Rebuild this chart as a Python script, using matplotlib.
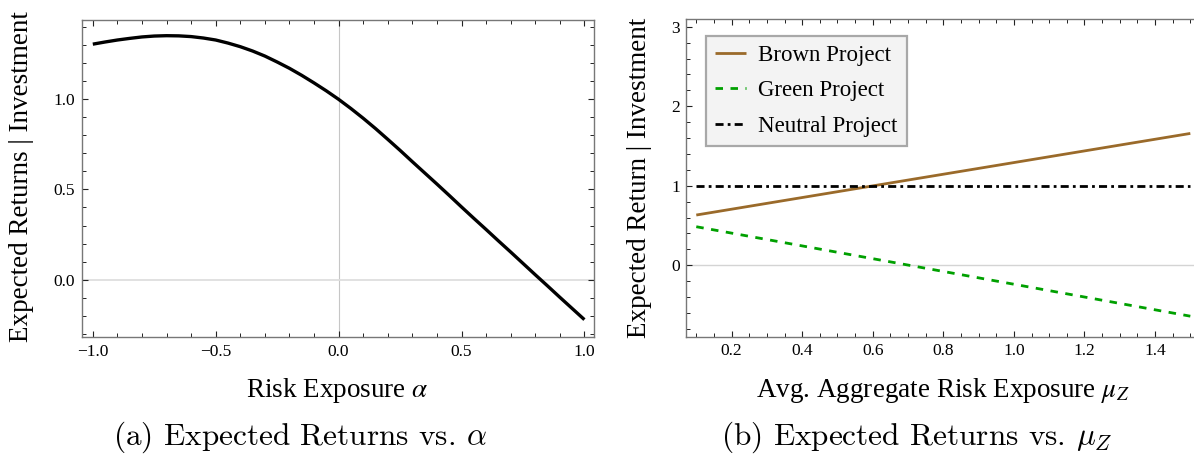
import matplotlib
matplotlib.use('Agg')
import matplotlib.pyplot as plt
from matplotlib.ticker import FixedLocator, MultipleLocator, FixedFormatter

# ---------------- data ----------------
alpha_vals = [-1.00, -0.95, -0.90, -0.85, -0.80, -0.75, -0.70, -0.65, -0.60,
              -0.55, -0.50, -0.45, -0.40, -0.35, -0.30, -0.25, -0.20, -0.15,
              -0.10, -0.05, 0.00, 0.05, 0.10, 0.15, 0.20, 0.25, 0.30, 0.35,
              0.40, 0.45, 0.50, 0.55, 0.60, 0.65, 0.70, 0.75, 0.80, 0.85,
              0.90, 0.95, 1.00]
expected_returns = [1.306, 1.318, 1.329, 1.338, 1.346, 1.351, 1.353, 1.352,
                    1.348, 1.340, 1.329, 1.312, 1.292, 1.268, 1.240, 1.207,
                    1.172, 1.133, 1.091, 1.047, 1.000, 0.949, 0.895, 0.838,
                    0.778, 0.717, 0.654, 0.592, 0.530, 0.467, 0.403, 0.340,
                    0.278, 0.215, 0.153, 0.090, 0.027, -0.035, -0.098, -0.160,
                    -0.222]

mu_z = [0.1, 1.5]
brown_project = [0.632, 1.658]
green_project = [0.485, -0.640]
neutral_project = [1.0, 1.0]
legend_labels = ['Brown Project', 'Green Project', 'Neutral Project']

left_xticks = [-1.0, -0.5, 0.0, 0.5, 1.0]
left_xticklabels = ['\u22121.0', '\u22120.5', '0.0', '0.5', '1.0']
left_yticks = [0.0, 0.5, 1.0]
left_yticklabels = ['0.0', '0.5', '1.0']
right_xticks = [0.2, 0.4, 0.6, 0.8, 1.0, 1.2, 1.4]
right_xticklabels = ['0.2', '0.4', '0.6', '0.8', '1.0', '1.2', '1.4']
right_yticks = [0, 1, 2, 3]
right_yticklabels = ['0', '1', '2', '3']

# ---------------- style ----------------
plt.rcParams['font.family'] = ['Liberation Serif', 'DejaVu Serif']
plt.rcParams['mathtext.fontset'] = 'stix'

W, H = 1194, 455
fig = plt.figure(figsize=(W / 100, H / 100), dpi=100)


def px_axes(l, r, t, b):
    return fig.add_axes([l / W, 1 - b / H, (r - l) / W, (b - t) / H])


def style(ax):
    for s in ax.spines.values():
        s.set_color('#777777')
        s.set_linewidth(1.0)
    ax.tick_params(which='both', direction='in', top=True, right=True,
                   color='#222222', labelcolor='black', labelsize=12.5)
    ax.tick_params(which='major', length=4.4, width=0.8, pad=4.8)
    ax.tick_params(which='minor', length=2.6, width=0.7)


ax1 = px_axes(81.5, 594, 20, 337.3)
ax2 = px_axes(686.4, 1200.2, 19, 336.7)

# ---- left panel ----
style(ax1)
ax1.axvline(0, color='#c6c6c6', lw=0.8, zorder=0)
ax1.axhline(0, color='#dedede', lw=1.3, zorder=0)
ax1.plot(alpha_vals, expected_returns, color='black', lw=2.4,
         solid_capstyle='butt', solid_joinstyle='round')
ax1.set_xlim(-1.046, 1.039)
ax1.set_ylim(-0.32, 1.44)
ax1.xaxis.set_major_locator(FixedLocator(left_xticks))
ax1.xaxis.set_major_formatter(FixedFormatter(left_xticklabels))
ax1.xaxis.set_minor_locator(MultipleLocator(0.1))
ax1.yaxis.set_major_locator(FixedLocator(left_yticks))
ax1.yaxis.set_major_formatter(FixedFormatter(left_yticklabels))
ax1.yaxis.set_minor_locator(MultipleLocator(0.1))

# ---- right panel ----
style(ax2)
ax2.axhline(0, color='#d4d4d4', lw=1.0, zorder=0)
l1, = ax2.plot(mu_z, brown_project, color='#9a6a2a', lw=2.0,
               solid_capstyle='butt')
l2, = ax2.plot(mu_z, green_project, color='#00a000', lw=2.0,
               dashes=(2.7, 2.7), dash_capstyle='butt')
l3, = ax2.plot(mu_z, neutral_project, color='black', lw=2.0,
               dashes=(2.9, 1.5, 1.0, 1.5), dash_capstyle='butt')
ax2.set_xlim(0.072, 1.528)
ax2.set_ylim(-0.898, 3.097)
ax2.xaxis.set_major_locator(FixedLocator(right_xticks))
ax2.xaxis.set_major_formatter(FixedFormatter(right_xticklabels))
ax2.xaxis.set_minor_locator(MultipleLocator(0.05))
ax2.yaxis.set_major_locator(FixedLocator(right_yticks))
ax2.yaxis.set_major_formatter(FixedFormatter(right_yticklabels))
ax2.yaxis.set_minor_locator(MultipleLocator(0.2))

leg = ax2.legend([l1, l2, l3], legend_labels, loc='upper left',
                 bbox_to_anchor=((706 - 686.4) / 513.8, (336.7 - 36) / 317.7),
                 borderaxespad=0, fontsize=16.5, frameon=True, fancybox=False,
                 handlelength=1.35, handletextpad=0.52, labelspacing=0.62,
                 borderpad=0.4)
fr = leg.get_frame()
fr.set_facecolor('#f3f3f3')
fr.set_edgecolor('#a8a8a8')
fr.set_linewidth(1.6)
fr.set_alpha(1)

# ---- axis labels and captions ----
fig.text(22 / W, 1 - 177 / H, 'Expected Returns | Investment', rotation=90,
         ha='center', va='center', fontsize=19.5)
fig.text(640 / W, 1 - 177.5 / H, 'Expected Return | Investment', rotation=90,
         ha='center', va='center', fontsize=19.5)
fig.text(337 / W, 1 - 397 / H, r'Risk Exposure $\alpha$', ha='center',
         va='baseline', fontsize=19.5)
fig.text(943 / W, 1 - 397 / H, r'Avg. Aggregate Risk Exposure $\mu_Z$',
         ha='center', va='baseline', fontsize=19.5)
fig.text(300 / W, 1 - 444.5 / H, r'(a) Expected Returns vs. $\alpha$',
         ha='center', va='baseline', fontsize=22.5, family='cmr10',
         math_fontfamily='cm')
fig.text(917 / W, 1 - 444.5 / H, r'(b) Expected Returns vs. $\mu_Z$',
         ha='center', va='baseline', fontsize=22.5, family='cmr10',
         math_fontfamily='cm')

fig.savefig('out.png', dpi=100)
